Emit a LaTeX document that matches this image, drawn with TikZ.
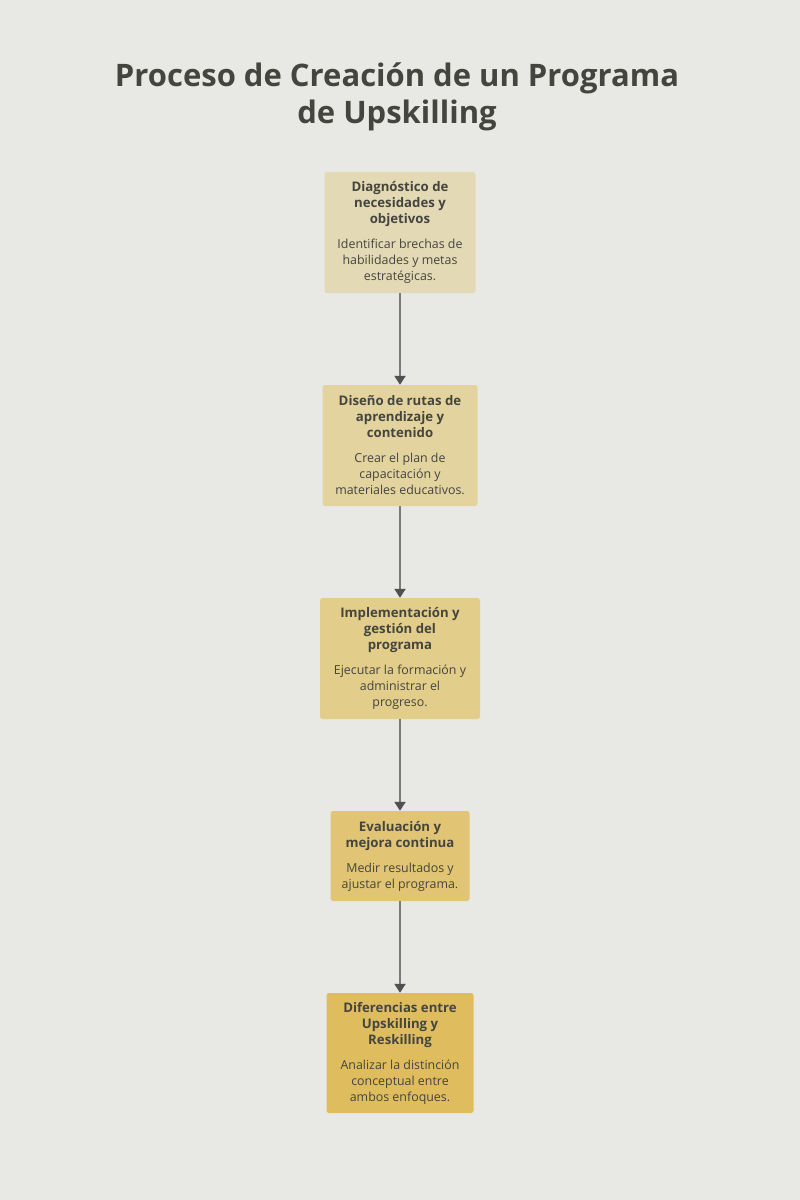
\documentclass[tikz,border=0pt]{standalone}
\usepackage{fontspec}
\setmainfont{Open Sans}
\usetikzlibrary{arrows.meta}
\definecolor{bg}{HTML}{E8E8E5}
\definecolor{txt}{HTML}{45453F}
\definecolor{cA}{HTML}{E4D9B5}
\definecolor{cB}{HTML}{E3D39E}
\definecolor{cC}{HTML}{E2CD8A}
\definecolor{cD}{HTML}{E1C574}
\definecolor{cE}{HTML}{DFBD5F}
\definecolor{lineg}{HTML}{7A7A78}
\definecolor{tipg}{HTML}{505050}
\tikzset{
  stepbox/.style={rounded corners=2.5pt, inner sep=0pt, align=center, text=txt,
    font=\fontsize{12.4}{16}\selectfont},
  conn/.style={draw=lineg, line width=2pt, -{Triangle[length=9pt,width=11pt,fill=tipg,color=tipg]}},
}
\newcommand{\bt}[1]{\textbf{\fontsize{13.2}{16}\selectfont #1}}
\begin{document}
\begin{tikzpicture}[x=1pt,y=-1pt]
\fill[bg] (0,0) rectangle (800,1200);
\useasboundingbox (0,0) rectangle (800,1200);
\node[text=txt, font=\fontsize{31}{37}\selectfont\bfseries, align=center] (title) at (397,97) {Proceso de Creación de un Programa\\de Upskilling};
\node[stepbox, fill=cA, minimum width=151pt, minimum height=121pt] (n1) at (400,232.5) {\bt{Diagnóstico de}\\\bt{necesidades y}\\\bt{objetivos}\\[9pt]Identificar brechas de\\habilidades y metas\\estratégicas.};
\node[stepbox, fill=cB, minimum width=155pt, minimum height=121pt] (n2) at (400,445.5) {\bt{Diseño de rutas de}\\\bt{aprendizaje y}\\\bt{contenido}\\[9pt]Crear el plan de\\capacitación y\\materiales educativos.};
\node[stepbox, fill=cC, minimum width=160pt, minimum height=121pt] (n3) at (400,658.5) {\bt{Implementación y}\\\bt{gestión del}\\\bt{programa}\\[9pt]Ejecutar la formación y\\administrar el\\progreso.};
\node[stepbox, fill=cD, minimum width=139pt, minimum height=90pt] (n4) at (400,856) {\bt{Evaluación y}\\\bt{mejora continua}\\[9pt]Medir resultados y\\ajustar el programa.};
\node[stepbox, fill=cE, minimum width=147pt, minimum height=120pt] (n5) at (400,1053) {\bt{Diferencias entre}\\\bt{Upskilling y}\\\bt{Reskilling}\\[9pt]Analizar la distinción\\conceptual entre\\ambos enfoques.};
\draw[conn] (n1.south) -- (n2.north);
\draw[conn] (n2.south) -- (n3.north);
\draw[conn] (n3.south) -- (n4.north);
\draw[conn] (n4.south) -- (n5.north);
\end{tikzpicture}
\end{document}
